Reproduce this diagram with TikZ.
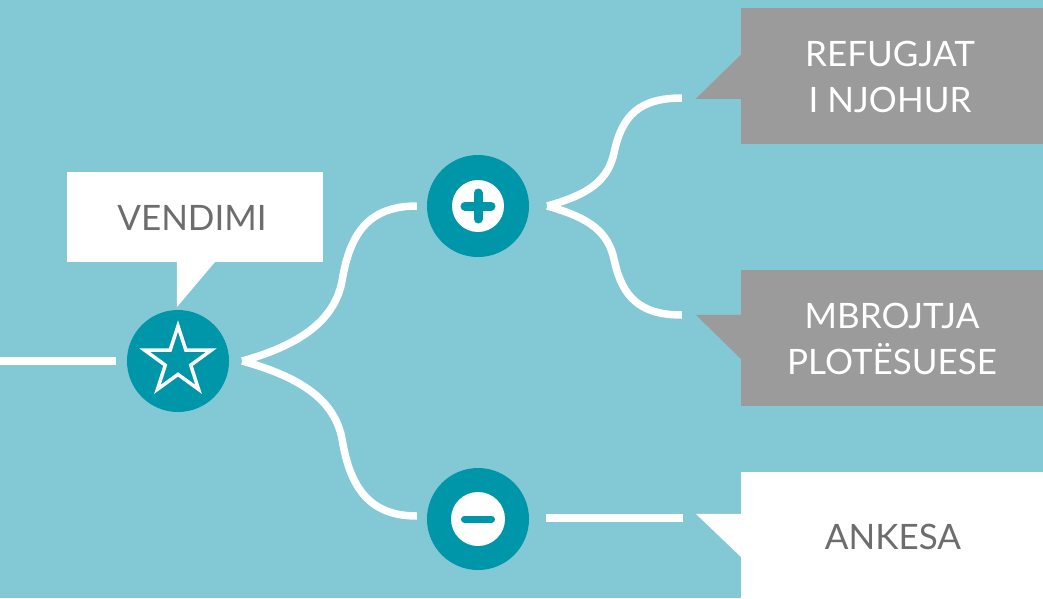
\documentclass[tikz,border=0pt]{standalone}
\usepackage{fontspec}
\setmainfont{Lato}
\usetikzlibrary{calc}
\definecolor{bgc}{HTML}{83C8D5}
\definecolor{hubc}{HTML}{0096A9}
\definecolor{boxg}{HTML}{9B9B9B}
\definecolor{txtg}{HTML}{6D6D6D}
\begin{document}
\begin{tikzpicture}[x=1pt,y=-1pt,
  conn/.style={draw=white,line width=7.5pt},
  hub/.style={circle,fill=hubc,minimum size=102pt,inner sep=0pt},
  inner/.style={circle,fill=white,minimum size=#1,inner sep=0pt},
  bar/.style={draw=hubc,line cap=round,line width=#1},
  starline/.style={draw=white,line width=3.5pt,line join=miter},
  lbl/.style={font=\fontsize{35}{46}\selectfont,align=center,inner sep=0pt},
  greybox/.style={fill=boxg,minimum width=302pt,minimum height=136pt,inner sep=0pt},
  whitebox/.style={fill=white,inner sep=0pt}]
\useasboundingbox (0,0) rectangle (1043,598);
\fill[bgc] (0,0) rectangle (1043,598);

% boxes
\node[whitebox,minimum width=256pt,minimum height=90pt] (vend) at (195,217) {};
\fill[white] ([xshift=110pt]vend.south west) -- ++(0,45) -- ([xshift=148pt]vend.south west) -- cycle;
\node[lbl,text=txtg] (vendt) at (192,218) {VENDIMI};

\node[greybox] (ref) at (892,76) {};
\fill[boxg] ([yshift=-47pt]ref.north west) -- ++(-45,44) -- ++(45,0) -- cycle;
\node[lbl,text=white] (reft) at (890,77) {REFUGJAT\\I NJOHUR};

\node[greybox] (mbr) at (892,338) {};
\fill[boxg] ([yshift=-45pt]mbr.north west) -- ++(-45,0) -- ++(45,44) -- cycle;
\node[lbl,text=white] (mbrt) at (892,339) {MBROJTJA\\PLOTËSUESE};

\node[whitebox,minimum width=302pt,minimum height=130pt] (ank) at (892,537) {};
\fill[white] ([yshift=-42pt]ank.north west) -- ++(-45,0) -- ++(45,43) -- cycle;
\node[lbl,text=txtg] (ankt) at (893,537) {ANKESA};

% hubs
\node[hub] (star) at (178,361) {};
\draw[starline]
  ([shift={(-90:35)}]star.center) -- ([shift={(-54:13.4)}]star.center) --
  ([shift={(-18:35)}]star.center) -- ([shift={(18:13.4)}]star.center) --
  ([shift={(54:35)}]star.center) -- ([shift={(90:13.4)}]star.center) --
  ([shift={(126:35)}]star.center) -- ([shift={(162:13.4)}]star.center) --
  ([shift={(198:35)}]star.center) -- ([shift={(234:13.4)}]star.center) -- cycle;

\node[hub] (plus) at (478,206) {};
\node[inner=52pt] (plusi) at (plus) {};
\draw[bar=9pt] ([xshift=-13pt]plusi.center) -- ([xshift=13pt]plusi.center);
\draw[bar=9pt] ([yshift=-13pt]plusi.center) -- ([yshift=13pt]plusi.center);

\node[hub] (minus) at (478,519) {};
\node[inner=54pt] (minusi) at (minus) {};
\draw[bar=7pt] ([xshift=-13.5pt]minusi.center) -- ([xshift=13.5pt]minusi.center);

% connector end points
\coordinate (in) at (0,361);
\coordinate (sIn) at ([xshift=-11pt]star.west);
\coordinate (sOut) at ([xshift=13pt]star.east);
\coordinate (pIn) at ([xshift=-10pt]plus.west);
\coordinate (pOut) at ([xshift=18pt]plus.east);
\coordinate (mIn) at ([xshift=-10pt,yshift=3pt]minus.west);
\coordinate (mOut) at ([xshift=17pt,yshift=1pt]minus.east);
\coordinate (refEnd) at ([xshift=-59pt]ref.west |- 0,98);
\coordinate (mbrEnd) at ([xshift=-59pt]mbr.west |- 0,315);
\coordinate (ankEnd) at ([xshift=-58pt]ank.west |- 0,518);

% connectors
\draw[conn] (in) -- (sIn);
\draw[conn] (sOut) .. controls +(58,-16) and +(-7,40) .. ($(sOut)+(100,-81)$)
  .. controls +(8,-48) and +(-47,0) .. (pIn);
\draw[conn] (sOut) .. controls +(58,16) and +(-7,-40) .. ($(sOut)+(100,79)$)
  .. controls +(8,48) and +(-47,0) .. (mIn);
\draw[conn] (pOut) .. controls +(43,-12) and +(-6,28) .. ($(pOut)+(67,-54)$)
  .. controls +(8,-37) and +(-42,0) .. (refEnd);
\draw[conn] (pOut) .. controls +(43,12) and +(-6,-28) .. ($(pOut)+(67,54)$)
  .. controls +(8,37) and +(-42,0) .. (mbrEnd);
\draw[conn] (mOut) -- (ankEnd);
\end{tikzpicture}
\end{document}
